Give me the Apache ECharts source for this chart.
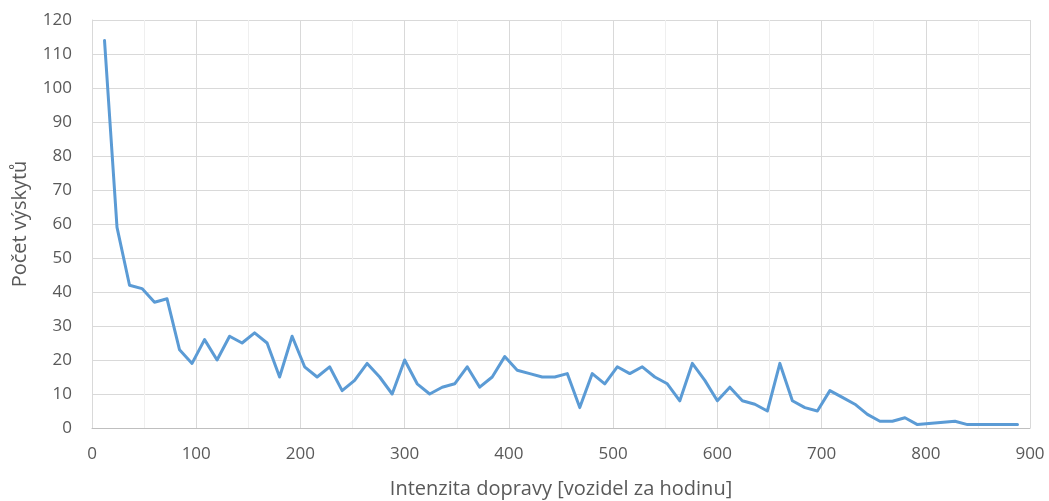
<!DOCTYPE html>
<html>
<head>
<meta charset="utf-8">
<script src="https://cdn.jsdelivr.net/npm/echarts@6/dist/echarts.min.js"></script>
<style>html,body{margin:0;padding:0;background:#fff}#c{width:1049px;height:501px}</style>
</head>
<body>
<div id="c"></div>
<script>
const intensity = [12,24,36,48,60,72,84,96,108,120,132,144,156,168,180,192,204,216,228,240,252,264,276,288,300,312,324,336,348,360,372,384,396,408,420,432,444,456,468,480,492,504,516,528,540,552,564,576,588,600,612,624,636,648,660,672,684,696,708,720,732,744,756,768,780,792,828,840,852,864,876,888];
const counts = [114,59,42,41,37,38,23,19,26,20,27,25,28,25,15,27,18,15,18,11,14,19,15,10,20,13,10,12,13,18,12,15,21,17,16,15,15,16,6,16,13,18,16,18,15,13,8,19,14,8,12,8,7,5,19,8,6,5,11,9,7,4,2,2,3,1,2,1,1,1,1,1];
const xTitle = 'Intenzita dopravy [vozidel za hodinu]';
const yTitle = 'Počet výskytů';

const pts = intensity.map((x, i) => [x, counts[i]]);
const font = '"Open Sans", sans-serif';
const chart = echarts.init(document.getElementById('c'));
chart.setOption({
  animation: false,
  grid: {left: 92, right: 19, top: 20, bottom: 73, containLabel: false, outerBoundsMode: 'none'},
  xAxis: {
    type: 'value', min: 0, max: 900, interval: 100,
    name: xTitle, nameLocation: 'middle', nameGap: 51,
    nameTextStyle: {color: '#595959', fontSize: 20, fontFamily: font},
    axisLine: {show: true, lineStyle: {color: '#BFBFBF', width: 1}},
    axisTick: {show: false},
    axisLabel: {color: '#595959', fontSize: 17, fontFamily: font, margin: 18},
    splitLine: {show: true, lineStyle: {color: '#D9D9D9', width: 1}},
    minorTick: {show: false, splitNumber: 2},
    minorSplitLine: {show: true, lineStyle: {color: '#EFEFEF', width: 1}}
  },
  yAxis: {
    type: 'value', min: 0, max: 120, interval: 10,
    name: yTitle, nameLocation: 'middle', nameGap: 62, nameRotate: 90,
    nameTextStyle: {color: '#595959', fontSize: 20, fontFamily: font},
    axisLine: {show: true, lineStyle: {color: '#D9D9D9', width: 1}},
    axisTick: {show: false},
    axisLabel: {color: '#595959', fontSize: 17, fontFamily: font, margin: 20},
    splitLine: {show: true, lineStyle: {color: '#D9D9D9', width: 1}}
  },
  series: [{
    type: 'line', data: pts, showSymbol: false, symbol: 'none',
    lineStyle: {color: '#5B9BD5', width: 3, join: 'round', cap: 'round'},
    itemStyle: {color: '#5B9BD5'}
  }]
});
</script>
</body>
</html>
